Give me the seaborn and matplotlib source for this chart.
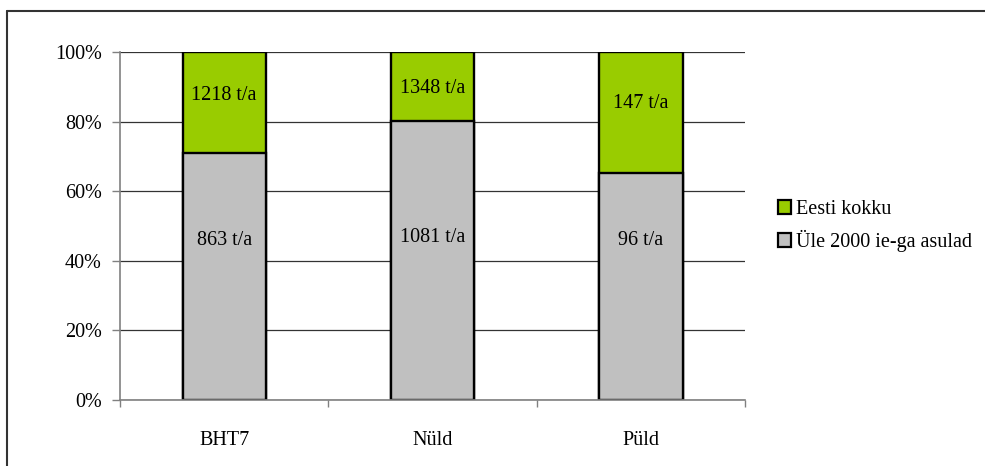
import matplotlib
matplotlib.use("Agg")
import matplotlib.pyplot as plt
from matplotlib.lines import Line2D
from matplotlib.patches import Patch
import seaborn as sns
import pandas as pd

# Data (tonnes per year)
categories = ["BHT7", "Nüld", "Püld"]
eesti_kokku = [1218, 1348, 147]          # total for Estonia
ule_2000 = [863, 1081, 96]               # settlements above 2000 p.e.
series_names = ["Eesti kokku", "Üle 2000 ie-ga asulad"]
y_ticks = [0, 0.2, 0.4, 0.6, 0.8, 1.0]
y_tick_labels = ["0%", "20%", "40%", "60%", "80%", "100%"]

# Vertical placement of the value labels (axis fraction)
label_y_total = [0.874, 0.894, 0.851]
label_y_sub = [0.457, 0.468, 0.457]

GREEN = "#99CC00"
GREY = "#C0C0C0"

sns.set_style("white")
plt.rcParams["font.family"] = ["Liberation Serif", "DejaVu Serif"]
plt.rcParams["font.size"] = 14.5
plt.rcParams["text.color"] = "black"
plt.rcParams["xtick.labelcolor"] = "black"
plt.rcParams["ytick.labelcolor"] = "black"

df = pd.DataFrame({
    "cat": categories,
    "total_share": [t / t for t in eesti_kokku],
    "sub_share": [s / t for s, t in zip(ule_2000, eesti_kokku)],
})

fig = plt.figure(figsize=(9.85, 4.66), dpi=100)
ax = fig.add_axes([120 / 985, 66 / 466, 625 / 985, 348 / 466])

sns.barplot(data=df, x="cat", y="total_share", color=GREEN, saturation=1,
            width=0.4, edgecolor="black", linewidth=1.7, ax=ax, zorder=3)
sns.barplot(data=df, x="cat", y="sub_share", color=GREY, saturation=1,
            width=0.4, edgecolor="black", linewidth=1.7, ax=ax, zorder=4)

for i in range(len(categories)):
    ax.text(i, label_y_total[i], f"{eesti_kokku[i]} t/a", ha="center",
            va="center", fontsize=14.5, color="black", zorder=6)
    ax.text(i, label_y_sub[i], f"{ule_2000[i]} t/a", ha="center",
            va="center", fontsize=14.5, color="black", zorder=6)

ax.set_xlim(-0.5, len(categories) - 0.5)
ax.set_ylim(0, 1.0)
ax.set_xlabel("")
ax.set_ylabel("")

ax.set_yticks(y_ticks)
ax.set_yticklabels(y_tick_labels)
ax.yaxis.grid(True, color="#333333", linewidth=0.9, zorder=0)
ax.xaxis.grid(False)
ax.set_axisbelow(True)

# Category labels centred, tick marks on category boundaries
ax.set_xticks([i - 0.5 for i in range(len(categories) + 1)])
ax.set_xticklabels([""] * (len(categories) + 1))
ax.set_xticks(range(len(categories)), minor=True)
ax.set_xticklabels(categories, minor=True)
ax.tick_params(axis="x", which="major", direction="out", length=5,
               width=1, color="#808080", bottom=True)
ax.tick_params(axis="x", which="minor", length=0, pad=22,
               labelcolor="black")
ax.tick_params(axis="y", direction="out", length=6, width=1,
               color="#808080", left=True, pad=7, labelcolor="black")

for side in ("top", "right"):
    ax.spines[side].set_visible(False)
for side in ("left", "bottom"):
    ax.spines[side].set_color("#808080")
    ax.spines[side].set_linewidth(1.2)
    ax.spines[side].set_zorder(5)

handles = [Patch(facecolor=GREEN, edgecolor="black", linewidth=1.6),
           Patch(facecolor=GREY, edgecolor="black", linewidth=1.6)]
leg = fig.legend(handles, series_names, loc="center left",
                 bbox_to_anchor=(768 / 985, (466 - 226) / 466),
                 frameon=False, handlelength=0.65, handleheight=0.65,
                 handletextpad=0.25, labelspacing=0.55, borderpad=0,
                 fontsize=14.5)
for t in leg.get_texts():
    t.set_color("black")

# Outer chart-area frame
fig.add_artist(Line2D([7 / 985, 1.0], [455 / 466, 455 / 466],
                      color="#333333", linewidth=1.5,
                      transform=fig.transFigure))
fig.add_artist(Line2D([7 / 985, 7 / 985], [0, 455 / 466],
                      color="#333333", linewidth=1.5,
                      transform=fig.transFigure))

fig.savefig("out.png", dpi=100, facecolor="white")
